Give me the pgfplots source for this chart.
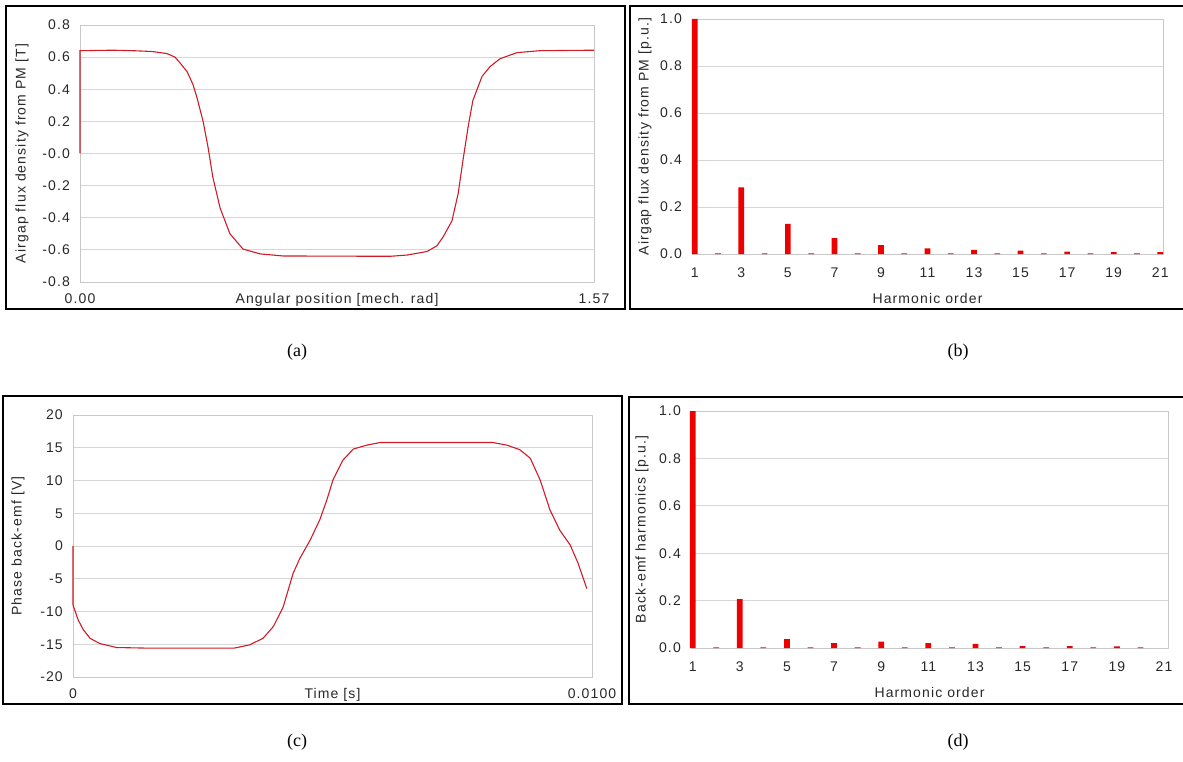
\documentclass[border=0pt]{standalone}
\usepackage{fontspec}
\setmainfont{Liberation Sans}
\newfontfamily\capfont{Liberation Serif}
\newfontfamily\chartfont[LetterSpace=8]{Liberation Sans}
\usepackage{pgfplots}
\pgfplotsset{compat=1.18}
\definecolor{gridgray}{RGB}{214,214,214}
\definecolor{framegray}{RGB}{200,200,200}
\definecolor{curvered}{RGB}{208,28,40}
\definecolor{barred}{RGB}{236,0,0}
\definecolor{txt}{RGB}{40,40,40}

\pgfplotsset{
  panel/.style={
    scale only axis,
    anchor=south west,
    axis line style={framegray, line width=0.9pt},
    major tick style={draw=none},
    minor tick style={draw=none},
    ymajorgrids, grid style={gridgray, line width=0.9pt},
    tick label style={font=\chartfont\fontsize{14}{16}\selectfont, text=txt},
    label style={font=\chartfont\fontsize{14}{16}\selectfont, text=txt},
    /pgf/number format/assume math mode=true,
    scaled x ticks=false, scaled y ticks=false,
    yticklabel style={anchor=east, inner sep=0pt, xshift=-10pt},
    xticklabel style={anchor=base, yshift=-21pt},
    xlabel style={at={(axis description cs:0.5,0)}, anchor=base, yshift=-21pt},
    ylabel style={at={(axis description cs:0,0.5)}, anchor=center},
    clip=false,
  },
  harm/.style={
    panel,
    ymin=0, ymax=1.0,
    xtick={1,3,...,21},
    ytick={0,0.2,0.4,0.6,0.8,1.0},
    yticklabels={0.0,0.2,0.4,0.6,0.8,1.0},
    xlabel={Harmonic order},
    xticklabel style={yshift=-2pt},
    xlabel style={yshift=-28pt},
  }
}

\pgfplotstableread{
x y
0 0
0 0.64
0.10 0.643
0.162 0.64
0.22 0.635
0.266 0.622
0.290 0.600
0.305 0.565
0.327 0.51
0.345 0.43
0.357 0.35
0.376 0.20
0.391 0.04
0.406 -0.15
0.428 -0.34
0.458 -0.50
0.498 -0.595
0.550 -0.625
0.620 -0.638
0.947 -0.64
1.000 -0.632
1.060 -0.61
1.090 -0.575
1.109 -0.52
1.136 -0.42
1.155 -0.25
1.170 -0.04
1.185 0.16
1.200 0.33
1.228 0.48
1.252 0.54
1.283 0.59
1.335 0.628
1.405 0.64
1.57 0.643
}\fluxdata

\pgfplotstableread{
x y
0 0
0 -9.0
0.0001 -11.3
0.0002 -12.8
0.00033 -14.1
0.00052 -14.9
0.00084 -15.5
0.0015 -15.6
0.0031 -15.6
0.0034 -15.1
0.00366 -14.1
0.00386 -12.3
0.00405 -9.3
0.00424 -4.2
0.00437 -1.9
0.00457 0.9
0.00476 4.1
0.00489 7.0
0.00501 10.1
0.0052 13.1
0.0054 14.8
0.00566 15.4
0.00592 15.8
0.00809 15.8
0.00836 15.4
0.00861 14.7
0.00881 13.4
0.0090 10.1
0.00919 5.5
0.00938 2.4
0.00958 0.15
0.00973 -2.6
0.0099 -6.5
}\emfdata

\pgfplotstableread{
n v
1 1.0
2 0.003
3 0.284
4 0.003
5 0.128
6 0.003
7 0.068
8 0.003
9 0.038
10 0.003
11 0.024
12 0.003
13 0.018
14 0.003
15 0.014
16 0.003
17 0.010
18 0.003
19 0.0085
20 0.003
21 0.0085
}\fluxharm

\pgfplotstableread{
n v
1 1.0
2 0.003
3 0.206
4 0.003
5 0.038
6 0.003
7 0.021
8 0.003
9 0.027
10 0.003
11 0.021
12 0.003
13 0.017
14 0.003
15 0.008
16 0.003
17 0.008
18 0.003
19 0.007
20 0.003
}\emfharm

\begin{document}
\begin{tikzpicture}
\path[use as bounding box] (0pt,0pt) rectangle (1183pt,-762pt);

% frames
\draw[line width=1.6pt] (6pt,-6pt) rectangle (625pt,-309pt);
\draw[line width=1.6pt] (1190pt,-6pt) -- (630pt,-6pt) -- (630pt,-309pt) -- (1190pt,-309pt);
\draw[line width=1.6pt] (3pt,-396pt) rectangle (622pt,-704pt);
\draw[line width=1.6pt] (1190pt,-397pt) -- (629pt,-397pt) -- (629pt,-704pt) -- (1190pt,-704pt);

% (a)
\begin{axis}[panel, at={(80pt,-282pt)}, width=514pt, height=257pt,
  xmin=0, xmax=1.57, ymin=-0.8, ymax=0.8,
  xtick={0,1.57}, xticklabels={0.00,1.57},
  ytick={-0.8,-0.6,-0.4,-0.2,0,0.2,0.4,0.6,0.8},
  yticklabels={-0.8,-0.6,-0.4,-0.2,-0.0,0.2,0.4,0.6,0.8},
  xlabel={Angular position [mech. rad]},
  ylabel={Airgap flux density from PM [T]},
  ylabel style={yshift=58pt},
]
\addplot[curvered, line width=1.1pt] table[x=x,y=y] {\fluxdata};
\end{axis}

% (b)
\begin{axis}[harm, at={(692pt,-254pt)}, width=471pt, height=235pt,
  xmin=0.88, xmax=21.12,
  ylabel={Airgap flux density from PM [p.u.]},
  ylabel style={yshift=47pt},
]
\addplot[ybar, bar width=0.245, fill=barred, draw=none] table[x=n,y=v] {\fluxharm};
\end{axis}

% (c)
\begin{axis}[panel, at={(73pt,-677pt)}, width=519pt, height=262pt,
  xmin=0, xmax=0.01, ymin=-20, ymax=20,
  xtick={0,0.01}, xticklabels={0,0.0100},
  ytick={-20,-15,-10,-5,0,5,10,15,20},
  yticklabels={-20,-15,-10,-5,0,5,10,15,20},
  xlabel={Time [s]},
  ylabel={Phase back-emf [V]},
  ylabel style={yshift=55pt},
]
\addplot[curvered, line width=1.1pt] table[x=x,y=y] {\emfdata};
\end{axis}

% (d)
\begin{axis}[harm, at={(691pt,-648pt)}, width=477pt, height=237pt,
  xmin=0.93, xmax=21.17,
  ylabel={Back-emf harmonics [p.u.]},
  ylabel style={yshift=49pt},
]
\addplot[ybar, bar width=0.245, fill=barred, draw=none] table[x=n,y=v] {\emfharm};
\end{axis}

% captions
\node[font=\capfont\fontsize{18}{20}\selectfont] at (297pt,-352pt) {(a)};
\node[font=\capfont\fontsize{18}{20}\selectfont] at (958pt,-352pt) {(b)};
\node[font=\capfont\fontsize{18}{20}\selectfont] at (297pt,-742pt) {(c)};
\node[font=\capfont\fontsize{18}{20}\selectfont] at (958pt,-742pt) {(d)};
\end{tikzpicture}
\end{document}
